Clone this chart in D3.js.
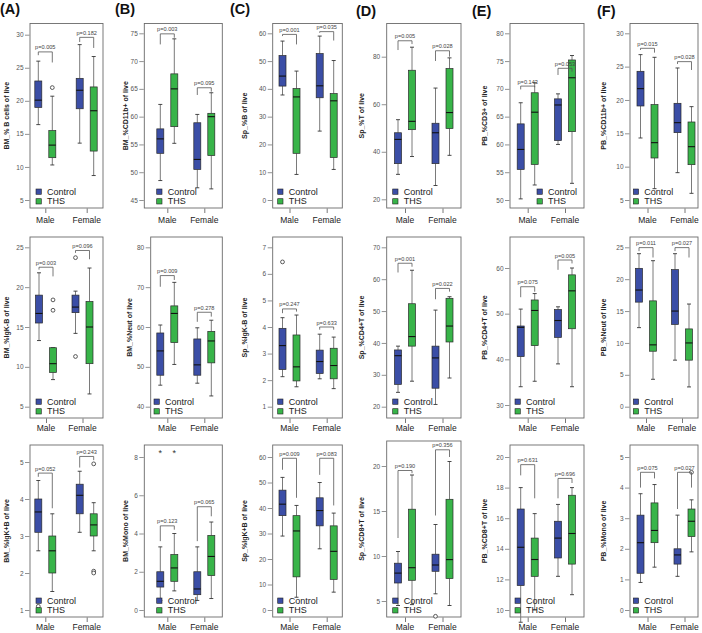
<!DOCTYPE html>
<html><head><meta charset="utf-8">
<script src="https://cdn.jsdelivr.net/npm/d3@7"></script>
<style>body{margin:0;background:#fff} svg{display:block;font-family:Arial,"Liberation Sans",sans-serif}</style>
</head><body><svg id="c" width="702" height="633"></svg>
<script>
// ---------------- DATA ----------------
const sexes = ["Male","Female"];
const groups = ["Control","THS"];
const panelLetters = ["(A)","(B)","(C)","(D)","(E)","(F)"];
const yTitles = [
  "BM_% B cells of live","BM_%CD11b+ of live","Sp_%B of live","Sp_%T of live","PB_%CD3+ of live","PB_%CD11b+ of live",
  "BM_%IgK-B of live","BM_%Neut of live","Sp_%IgK-B of live","Sp_%CD4+T of live","PB_%CD4+T of live","PB_%Neut of live",
  "BM_%IgK+B of live","BM_%Mono of live","Sp_%IgK+B of live","Sp_%CD8+T of live","PB_%CD8+T of live","PB_%Mono of live"
];
const yTicks = [
  [5,10,15,20,25,30],[45,50,55,60,65,70,75],[0,10,20,30,40,50,60],[20,40,60,80],[50,55,60,65,70,75,80],[5,10,15,20,25,30],
  [5,10,15,20,25],[40,50,60,70,80],[1,2,3,4,5,6,7],[20,30,40,50,60,70],[30,40,50,60],[0,5,10,15,20,25],
  [1,2,3,4,5],[0,2,4,6,8],[0,10,20,30,40,50,60],[5,10,15,20],[10,12,14,16,18,20],[0,1,2,3,4,5]
];
// box stats: [lower whisker, Q1, median, Q3, upper whisker]
// order: Male-Control, Male-THS, Female-Control, Female-THS
const statsA1 = [[16.4,19.0,20.1,23.0,26.0],[10.3,11.4,13.3,15.5,20.7],[13.6,18.8,21.6,23.4,28.5],[8.7,12.4,18.5,22.1,26.7]];
const statsB1 = [[48.5,53.4,56.0,57.8,62.2],[55.2,58.2,65.0,67.7,74.0],[47.2,50.5,52.3,58.9,60.4],[47.0,53.0,60.0,60.6,64.3]];
const statsC1 = [[37.8,41.0,44.6,52.0,57.2],[9.2,16.8,37.1,40.1,46.4],[24.8,36.8,41.1,52.7,59.0],[11.0,15.3,35.7,38.3,50.2]];
const statsD1 = [[30.5,35.0,45.2,48.0,53.5],[38.0,49.3,52.8,74.3,84.0],[25.8,35.0,48.0,52.0,66.8],[38.5,49.8,56.5,75.0,79.5]];
const statsE1 = [[50.2,55.5,59.1,63.7,67.5],[52.7,56.4,65.8,69.3,71.1],[60.0,60.7,67.1,68.2,69.1],[53.0,62.3,72.0,75.2,76.0]];
const statsF1 = [[14.3,19.1,21.7,24.3,26.8],[6.7,11.3,13.6,19.3,26.4],[9.1,15.1,16.6,19.5,24.8],[6.0,10.3,13.0,16.7,19.0]];
const statsA2 = [[13.3,15.5,16.7,19.0,21.8],[8.4,9.3,10.4,12.4,12.4],[14.2,16.8,17.5,19.0,19.5],[6.6,10.4,15.0,18.2,22.4]];
const statsB2 = [[45.4,47.9,54.0,58.5,60.5],[50.6,56.1,63.4,65.3,71.2],[45.9,47.9,50.5,57.0,59.8],[42.7,51.0,56.5,58.9,61.7]];
const statsC2 = [[2.13,2.40,3.30,3.95,4.35],[1.75,1.97,2.50,3.70,4.45],[2.05,2.25,2.70,3.13,3.73],[1.68,2.05,2.55,3.20,3.62]];
const statsD2 = [[24.5,27.0,36.0,37.8,39.0],[28.0,39.0,42.0,52.3,62.8],[20.7,25.8,35.3,39.0,50.3],[29.0,40.3,45.3,54.0,54.5]];
const statsE2 = [[34.0,40.6,47.0,47.3,51.0],[35.2,43.0,50.7,53.0,54.4],[39.0,44.8,48.5,50.9,51.5],[34.0,46.7,55.0,58.5,60.0]];
const statsF2 = [[12.4,16.4,18.3,21.7,24.0],[4.3,8.7,9.7,16.6,22.9],[7.3,12.9,15.0,21.5,24.0],[3.1,7.3,10.0,12.2,16.1]];
const statsA3 = [[2.6,3.1,3.65,4.0,4.5],[1.5,2.0,2.6,3.0,3.6],[3.1,3.6,4.1,4.4,4.75],[2.6,3.0,3.3,3.6,3.9]];
const statsB3 = [[0.5,1.2,1.5,2.0,3.3],[1.0,1.5,2.2,2.9,4.0],[0.5,0.8,1.1,2.0,3.3],[0.6,1.8,2.8,3.9,4.6]];
const statsC3 = [[29,37,41.5,47,52],[5,13,31,37,41],[24,33,39,44,50],[7,12,23,33,38]];
const statsD3 = [[4.5,7.0,8.1,9.2,10.5],[4.6,7.3,8.7,15.2,19.0],[5.8,8.3,9.0,10.2,13.5],[4.5,7.5,9.6,16.3,20.5]];
const statsE3 = [[9.2,11.6,14.1,16.6,18.0],[10.0,12.2,13.3,14.7,16.3],[12.2,13.4,14.7,15.8,16.9],[11.0,13.0,15.0,17.5,18.0]];
const statsF3 = [[0.9,1.2,2.2,3.1,3.8],[1.4,2.2,2.6,3.5,4.1],[1.1,1.5,1.8,2.0,3.1],[1.9,2.4,2.9,3.3,3.6]];
// outliers (circles) and extremes (stars) per box
const outA1 = [[],[22.0],[],[]];
const outA2 = [[],[18.4,17.1],[23.7,11.3],[]];
const outC2 = [[6.45],[],[],[]];
const outA3 = [[1.1],[],[],[4.95,2.05,2.0]];
const extB3 = [[8.3],[8.3],[],[]];
const outD3 = [[],[],[3.3],[]];
const outF3 = [[],[],[],[4.5]];
// significance brackets: [label, bracket level, left leg end, right leg end]
const pA1 = [["p=0.005",27.4,26.9,25.8],["p=0.182",29.6,28.9,28.0]];
const pB1 = [["p=0.003",74.9,73.0,74.2],["p=0.095",65.2,63.9,64.5]];
const pC1 = [["p=0.001",59.6,59.0,56.0],["p=0.035",60.6,60.2,57.4]];
const pD1 = [["p=0.005",86.7,82.8,85.3],["p=0.028",82.5,78.2,80.0]];
const pE1 = [["p=0.143",70.5,69.9,70.3],["p=0.053",73.7,72.5,73.1]];
const pF1 = [["p=0.015",27.75,27.5,27.1],["p=0.028",25.75,25.4,24.5]];
const pA2 = [["p=0.003",22.5,22.2,21.35],["p=0.096",24.6,24.3,23.5]];
const pB2 = [["p=0.009",72.9,70.1,71.8],["p=0.278",63.7,61.3,62.6]];
const pC2 = [["p=0.247",4.68,4.52,4.58],["p=0.633",4.0,3.9,3.9]];
const pD2 = [["p=0.001",65.0,62.1,63.9],["p=0.022",57.1,53.7,56.1]];
const pE2 = [["p=0.075",55.9,53.6,54.8],["p=0.005",61.75,59.6,61.0]];
const pF2 = [["p=0.011",24.95,24.4,23.4],["p=0.027",24.95,24.4,23.4]];
const pA3 = [["p=0.052",4.7,4.6,3.75],["p=0.243",5.15,4.85,5.05]];
const pB3 = [["p=0.123",4.4,3.6,4.2],["p=0.065",5.4,3.6,4.9]];
const pC3 = [["p=0.009",59.5,55,44],["p=0.083",59.5,53,41]];
const pD3 = [["p=0.190",19.5,12,19.2],["p=0.356",21.8,14.5,21]];
const pE3 = [["p=0.631",19.5,18.8,17.3],["p=0.696",18.6,17.3,18.3]];
const pF3 = [["p=0.075",4.5,4.0,4.3],["p=0.027",4.5,3.3,4.0]];

// ---------------- LAYOUT ----------------
const colors = {Control:"#3b4ea6", THS:"#38b449"};
const colLayout = [
  {fl:30,    fr:103,   cx:[45.3,86.7],  tx:7,     lx:0,   ly:14, legDx:6},
  {fl:144.3, fr:222.3, cx:[167.3,204.3],tx:125.7, lx:115, ly:14, legDx:12.4},
  {fl:272.7, fr:342.3, cx:[289.5,326.7],tx:245,   lx:230, ly:14, legDx:5},
  {fl:386.7, fr:461,   cx:[405,442.5],  tx:362,   lx:356, ly:16, legDx:6},
  {fl:510,   fr:584,   cx:[527.7,565],  tx:485,   lx:472, ly:16, legDx:5},
  {fl:630,   fr:698,   cx:[647.5,684.5],tx:604,   lx:597, ly:16, legDx:3.3}
];
const rowLayout = [
  {top:23.5, bottom:208, tTop:33.3, tBot:200,   labY:223},
  {top:237,  bottom:418, tTop:247.3,tBot:406.7, labY:431},
  {top:445,  bottom:617, tTop:457,  tBot:610,   labY:630}
];
const overrides = {
  A1:{tTop:34.7}, D1:{tTop:56.7,tBot:199.3}, E1:{legDx:27},
  A2:{cx:[46,82.5]}, B2:{fl:150.7,tx:130,legDx:3.3}, E2:{tTop:268,tBot:405}, F2:{cx:[646,682]},
  A3:{tTop:462}, D3:{top:441,tTop:466,tBot:601}
};
const statsList = [statsA1,statsB1,statsC1,statsD1,statsE1,statsF1,statsA2,statsB2,statsC2,statsD2,statsE2,statsF2,statsA3,statsB3,statsC3,statsD3,statsE3,statsF3];
const pList = [pA1,pB1,pC1,pD1,pE1,pF1,pA2,pB2,pC2,pD2,pE2,pF2,pA3,pB3,pC3,pD3,pE3,pF3];
const outMap = {A1:outA1, A2:outA2, C2:outC2, A3:outA3, D3:outD3, F3:outF3};
const extMap = {B3:extB3};

const svg = d3.select("#c");
const letters = "ABCDEF";

statsList.forEach((stats, k) => {
  const col = k % 6, row = Math.floor(k / 6);
  const id = letters[col] + (row + 1);
  const L = Object.assign({}, colLayout[col], rowLayout[row], overrides[id] || {});
  const ticks = yTicks[k];
  const y = d3.scaleLinear().domain([ticks[0], ticks[ticks.length-1]]).range([L.tBot, L.tTop]);
  const x = d3.scalePoint().domain(sexes).range(L.cx);
  const inner = d3.scaleBand().domain(groups).range([-10.5, 10.5]).paddingInner(0.5);
  const bw = inner.bandwidth();
  const g = svg.append("g");

  // frame
  g.append("rect").attr("x", L.fl).attr("y", L.top).attr("width", L.fr - L.fl).attr("height", L.bottom - L.top)
    .attr("fill", "none").attr("stroke", "#6a6a6a").attr("stroke-width", 0.9);

  // y axis
  const yAxis = d3.axisLeft(y).tickValues(ticks).tickSize(4.5).tickPadding(1.5).tickFormat(d3.format("d"));
  const ya = g.append("g").attr("transform", `translate(${L.fl - 0.5},0)`).call(yAxis);
  ya.select(".domain").remove();
  ya.selectAll("line").attr("stroke", "#777").attr("stroke-width", 0.8);
  ya.selectAll("text").attr("font-size", 6.5).attr("fill", "#555").attr("font-family", "Arial, Liberation Sans, sans-serif");

  // x axis
  const xAxis = d3.axisBottom(x).tickSize(4.5).tickPadding(5);
  const xa = g.append("g").attr("transform", `translate(0,${L.bottom + 0.5})`).call(xAxis);
  xa.select(".domain").remove();
  xa.selectAll("line").attr("stroke", "#555").attr("stroke-width", 0.8);
  xa.selectAll("text").remove();
  g.selectAll(".xl").data(sexes).enter().append("text")
    .attr("x", d => x(d)).attr("y", L.labY).attr("text-anchor", "middle")
    .attr("font-size", 8.5).attr("fill", "#222").text(d => d);

  // y title
  g.append("text").attr("transform", `translate(${L.tx},${(L.top + L.bottom) / 2}) rotate(-90)`)
    .attr("text-anchor", "middle").attr("dy", "0.35em").attr("font-size", 7).attr("font-weight", "bold")
    .attr("fill", "#222").text(yTitles[k]);

  // panel letter
  if (row === 0) {
    g.append("text").attr("x", L.lx).attr("y", L.ly).attr("font-size", 14.5).attr("font-weight", "bold")
      .attr("fill", "#111").text(panelLetters[col]);
  }

  // boxes
  const boxes = stats.map((s, i) => ({s, sex: sexes[Math.floor(i / 2)], grp: groups[i % 2], i}));
  const cxOf = b => x(b.sex) + inner(b.grp) + bw / 2;
  boxes.forEach(b => {
    const [lo, q1, md, q3, hi] = b.s;
    const cx = cxOf(b);
    g.append("line").attr("x1", cx).attr("x2", cx).attr("y1", y(hi)).attr("y2", y(q3)).attr("stroke", "#7a7a7a").attr("stroke-width", 1);
    g.append("line").attr("x1", cx).attr("x2", cx).attr("y1", y(q1)).attr("y2", y(lo)).attr("stroke", "#7a7a7a").attr("stroke-width", 1);
    [lo, hi].forEach(v => g.append("line").attr("x1", cx - 2).attr("x2", cx + 2).attr("y1", y(v)).attr("y2", y(v))
      .attr("stroke", "#333").attr("stroke-width", 0.9));
    g.append("rect").attr("x", cx - bw / 2).attr("y", y(q3)).attr("width", bw).attr("height", Math.max(0.5, y(q1) - y(q3)))
      .attr("fill", colors[b.grp]).attr("stroke", "#2a2a2a").attr("stroke-width", 0.7);
    g.append("line").attr("x1", cx - bw / 2).attr("x2", cx + bw / 2).attr("y1", y(md)).attr("y2", y(md))
      .attr("stroke", "#111").attr("stroke-width", 1.1);
    const outs = (outMap[id] || [])[b.i] || [];
    outs.forEach(v => g.append("circle").attr("cx", cx).attr("cy", y(v)).attr("r", 1.9)
      .attr("fill", "#fff").attr("stroke", "#333").attr("stroke-width", 0.8));
    const exts = (extMap[id] || [])[b.i] || [];
    exts.forEach(v => g.append("text").attr("x", cx).attr("y", y(v)).attr("dy", "0.55em").attr("text-anchor", "middle")
      .attr("font-size", 9).attr("fill", "#333").text("*"));
  });

  // brackets
  pList[k].forEach((p, j) => {
    const [lab, h, le, re] = p;
    const x1 = cxOf(boxes[j * 2]), x2 = cxOf(boxes[j * 2 + 1]);
    g.append("path").attr("d", `M${x1},${y(le)}V${y(h)}H${x2}V${y(re)}`)
      .attr("fill", "none").attr("stroke", "#555").attr("stroke-width", 0.8);
    g.append("text").attr("x", (x1 + x2) / 2).attr("y", y(h) - 2.5).attr("text-anchor", "middle")
      .attr("font-size", 5.6).attr("fill", "#444").text(lab);
  });

  // legend
  const lg = g.append("g").attr("transform", `translate(${L.fl + L.legDx},${L.bottom - 19})`);
  groups.forEach((gr, i) => {
    lg.append("rect").attr("x", 0).attr("y", i * 9.7).attr("width", 5.3).attr("height", 5.3)
      .attr("fill", colors[gr]).attr("stroke", "#222").attr("stroke-width", 0.6);
    lg.append("text").attr("x", 11).attr("y", i * 9.7 + 5.6).attr("font-size", 9).attr("fill", "#222").text(gr);
  });
});
</script></body></html>
